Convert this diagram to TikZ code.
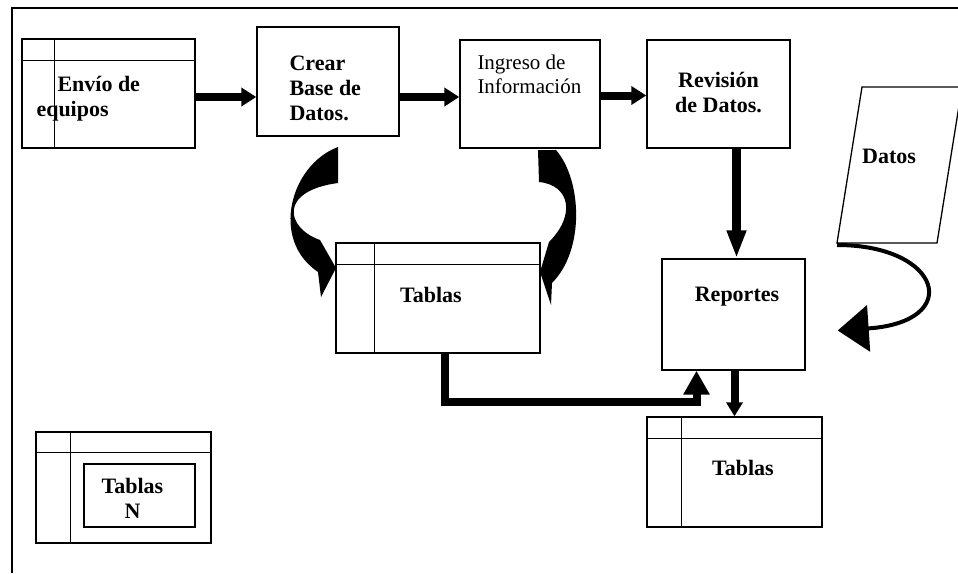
\documentclass[tikz,border=0pt]{standalone}
\usepackage{fontspec}
\setmainfont{Liberation Serif}
\usetikzlibrary{calc,arrows.meta,positioning}
\tikzstyle{caja}=[draw, line width=1.4pt, inner sep=0pt]
\tikzstyle{txt}=[font=\fontsize{22}{25}\selectfont\bfseries, inner sep=0pt, align=left]
\tikzstyle{txtn}=[font=\fontsize{21}{24}\selectfont, inner sep=0pt, align=left]
\tikzstyle{flecha}=[line width=8pt, -{Triangle[length=15pt,width=18pt]}]
% lineas de las tablas: nodo, cabecera, columna
\newcommand{\rayas}[3]{%
  \draw[line width=1.3pt] ([yshift=-#2]#1.north west) -- ([yshift=-#2]#1.north east);
  \draw[line width=1.3pt] ([xshift=#3]#1.north west) -- ([xshift=#3]#1.south west);}

\begin{document}
\begin{tikzpicture}[x=1pt,y=-1pt]
      \useasboundingbox (0,0) rectangle (958,573);
      \draw[line width=1.2pt] (12,573) -- (12,8) -- (958,8);
      % cajas de arriba
      \node [caja, minimum width=173pt, minimum height=109pt] (envio) at (108.5,93.5) {};
      \node [caja, minimum width=142pt, minimum height=109pt] (crear) at (328,81.5) {};
      \node [caja, minimum width=140pt, minimum height=108pt] (ingreso) at (530,94) {};
      \node [caja, minimum width=143pt, minimum height=108pt] (revision) at (718.5,94) {};
      \rayas{envio}{22pt}{33pt}
      \node [txt, anchor=west] (tenvio) at ([xshift=15pt,yshift=-5.5pt]envio.west) {\hspace*{21pt}Envío de\\equipos};
      \node [txt, anchor=west] (tcrear) at ([xshift=33pt,yshift=-6.5pt]crear.west) {Crear\\Base de\\Datos.};
      \node [txtn, anchor=west] (tingreso) at ([xshift=18pt,yshift=20pt]ingreso.west) {Ingreso de\\Información};
      \node [txt, align=center] (trevision) at ([yshift=1.5pt]revision.center) {Revisión\\de Datos.};
      % datos
      \draw[line width=1.3pt] (862,87) -- (962,87) -- (937,243) coordinate (dse) -- (837,243) coordinate (dsw) -- cycle;
      \node [txt] (tdatos) at (889,156) {Datos};
      % tablas y reportes
      \node [caja, minimum width=204pt, minimum height=110pt] (tablas) at (438,298) {};
      \rayas{tablas}{22pt}{39pt}
      \node [txt] (ttablas) at ([xshift=-7pt,yshift=3pt]tablas.center) {Tablas};
      \node [caja, minimum width=143pt, minimum height=111pt] (reportes) at (733.5,314.5) {};
      \node [txt] (treportes) at ([xshift=3.5pt,yshift=17.5pt]reportes.center) {Reportes};
      \node [caja, minimum width=175pt, minimum height=110pt] (tablas2) at (734.5,472) {};
      \rayas{tablas2}{22pt}{35pt}
      \node [txt] (ttablas2) at ([xshift=8.5pt,yshift=4pt]tablas2.center) {Tablas};
      \node [caja, minimum width=175pt, minimum height=111pt] (tablasn) at (123.5,487.5) {};
      \rayas{tablasn}{21pt}{35pt}
      \node [caja, minimum width=111pt, minimum height=63pt] (tablasnin) at (139.5,495.5) {};
      \node [txt, align=center] (ttablasn) at ([xshift=-7pt,yshift=-3pt]tablasnin.center) {Tablas\\N};
      % flechas
      \draw[flecha] ([yshift=-3.5pt]envio.east) -- ([yshift=-3.5pt]envio.east -| crear.west);
      \draw[flecha] ([yshift=-15.5pt]crear.east) -- ([yshift=-15.5pt]crear.east -| ingreso.west);
      \draw[flecha] ([yshift=-1.5pt]ingreso.east) -- ([yshift=-1.5pt]ingreso.east -| revision.west);
      \draw[line width=9pt, -{Triangle[length=28pt,width=18pt]}] ([xshift=3pt]reportes.north |- revision.south) -- ([xshift=3pt]reportes.north);
      \draw[line width=8pt, -{Triangle[length=14pt,width=16pt]}] (tablas2.north |- reportes.south) -- (tablas2.north);
      \draw[line width=8pt, -{Triangle[length=24pt,width=25pt]}] ([xshift=7pt]tablas.south) |- ([xshift=-37pt,yshift=-31pt]reportes.south) -- ([xshift=-37pt]reportes.south);
      \coordinate (llegada) at ([xshift=32pt,yshift=-16pt]reportes.east);
      \draw[line width=4pt, -{Triangle[length=31pt,width=46pt]}] ([yshift=-2pt]dsw) .. controls (942,245) and (964,322) .. (llegada);
      % flechas curvas hacia tablas
      \fill (338,147) .. controls (290,165) and (270,240) .. (318,272) -- (321,297) -- (336,268) -- (320,240) .. controls (286,228) and (278,191) .. (338,183) -- cycle;
      \fill (538,150) -- (556,150) .. controls (582,180) and (585,250) .. (552,283) -- (551,305) -- (540,272) -- (549,242) .. controls (576,215) and (570,185) .. (539,182) -- cycle;
\end{tikzpicture}
\end{document}
